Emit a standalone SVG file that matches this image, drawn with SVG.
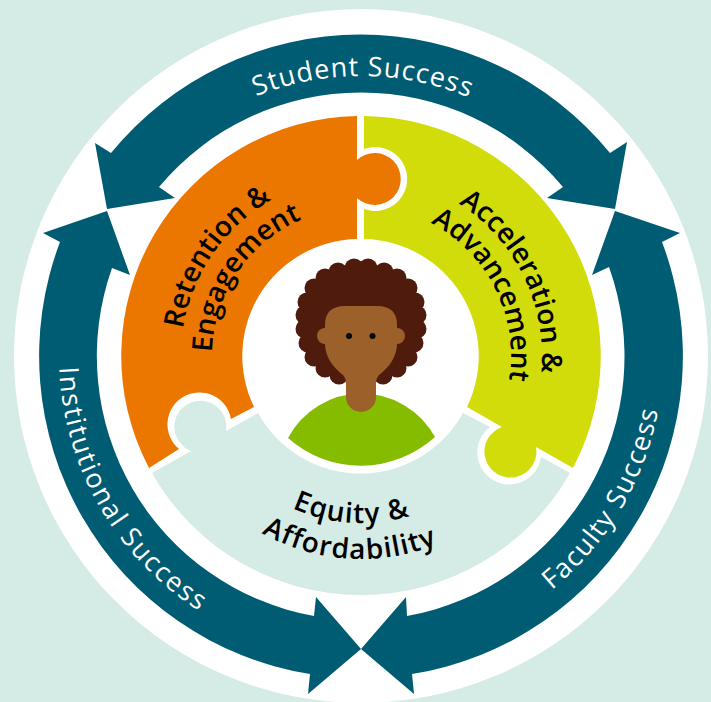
<svg xmlns="http://www.w3.org/2000/svg" width="711" height="702" viewBox="0 0 711 702">
<style>
.arrow{fill:#005c73}
.ring{font-family:"Open Sans","Noto Sans",sans-serif;font-size:27px;fill:#fff;text-anchor:middle;letter-spacing:1px}
.lbl{font-family:"Open Sans","Noto Sans",sans-serif;font-size:28px;font-weight:600;fill:#000;text-anchor:middle;letter-spacing:.1px}
</style>
<defs>
<path id="t280" d="M81 356A280 280 0 0 1 641 356"/>
<path id="b302" d="M59 356A302 302 0 0 0 663 356"/>
<path id="t180" d="M181 356A180 180 0 0 1 541 356"/>
<path id="t149" d="M212 356A149 149 0 0 1 510 356"/>
<path id="t181" d="M180 356A181 181 0 0 1 542 356"/>
<path id="t150" d="M211 356A150 150 0 0 1 511 356"/>
<path id="b167" d="M194 356A167 167 0 0 0 528 356"/>
<path id="b203" d="M158 356A203 203 0 0 0 564 356"/>
</defs>
<rect width="711" height="702" fill="#d5ebe5"/>
<circle cx="361" cy="356" r="347" fill="#fff"/>
<g id="connectors">
<g id="student-success">
<path class="arrow" d="M107 209L95 143L111 153A322 322 0 0 1 610 153L627 142L615 209L547 198L563 187A263 263 0 0 0 159 187L175 198Z"/>
<text class="ring" transform="rotate(.4 361 356)"><textPath href="#t280" startOffset="50%">Student Success</textPath></text>
</g>
<g id="institutional-success">
<path class="arrow" d="M107 211L43 233L60 242A322 322 0 0 0 310 674L308 694L361 649L316 597L314 616A264 264 0 0 1 112 268L130 275Z"/>
<text class="ring" style="letter-spacing:1.8px" transform="rotate(60 361 356)"><textPath href="#b302" startOffset="50%">Institutional Success</textPath></text>
</g>
<g id="faculty-success">
<path class="arrow" d="M615 211L680 233L662 242A322 322 0 0 1 412 674L414 694L361 649L406 597L407 616A264 264 0 0 0 609 267L592 275Z"/>
<text class="ring" style="letter-spacing:1.4px" transform="rotate(-59.5 361 356)"><textPath href="#b302" startOffset="50%">Faculty Success</textPath></text>
</g>
</g>
<g id="equity">
<path fill="#d5ebe5" d="M152 473A240 240 0 0 0 570 473L541 457A32 32 0 1 1 490 427L463 413A117 117 0 0 1 258 413L226 431A26 26 0 1 0 191 451Z"/>
<text class="lbl" style="letter-spacing:1.1px" transform="rotate(3.500 361 356)"><textPath href="#b167" startOffset="50%">Equity &amp;</textPath></text>
<text class="lbl" style="letter-spacing:1.1px" transform="rotate(3.500 361 356)"><textPath href="#b203" startOffset="50%">Affordability</textPath></text>
</g>
<g id="retention">
<path fill="#ec7700" d="M357 116A240 240 0 0 0 149 468L179 449A32 32 0 1 1 231 419L254 407A117 117 0 0 1 357 239V198A26 26 0 1 0 357 160Z"/>
<text class="lbl" transform="rotate(-55.5 361 356)"><textPath href="#t180" startOffset="50%">Retention &amp;</textPath></text>
<text class="lbl" transform="rotate(-56 361 356)"><textPath href="#t149" startOffset="50%">Engagement</textPath></text>
</g>
<g id="acceleration">
<path fill="#d2dc0b" d="M364 116A240 240 0 0 1 573 468L536 447A26 26 0 1 1 502 427L467 407A117 117 0 0 0 364 239V209A32 32 0 1 0 364 149Z"/>
<text class="lbl" transform="rotate(64 361 356)"><textPath href="#t181" startOffset="50%">Acceleration &amp;</textPath></text>
<text class="lbl" transform="rotate(63.5 361 356)"><textPath href="#t150" startOffset="50%">Advancement</textPath></text>
</g>
<g id="person">
<path fill="#86bc00" d="M288 438A83.5 83.5 0 0 1 435 437A110 110 0 0 1 288 438Z"/>
<g class="hair" fill="#4f1b0d">
<path d="M354 268L368 268L384 272L397 278L408 288L415 302L417 315L417 329L414 343L408 357L397 368L383 375L339 375L325 368L314 357L308 343L305 329L305 315L307 302L314 288L325 278L338 272Z"/>
<circle cx="354" cy="268" r="9.5"/><circle cx="368" cy="268" r="9.5"/><circle cx="384" cy="272" r="9.5"/><circle cx="397" cy="278" r="9.5"/><circle cx="408" cy="288" r="9.5"/><circle cx="415" cy="302" r="9.5"/><circle cx="417" cy="315" r="9.5"/><circle cx="417" cy="329" r="9.5"/><circle cx="414" cy="343" r="9.5"/><circle cx="408" cy="357" r="9.5"/><circle cx="397" cy="368" r="9.5"/><circle cx="383" cy="375" r="9.5"/><circle cx="339" cy="375" r="9.5"/><circle cx="325" cy="368" r="9.5"/><circle cx="314" cy="357" r="9.5"/><circle cx="308" cy="343" r="9.5"/><circle cx="305" cy="329" r="9.5"/><circle cx="305" cy="315" r="9.5"/><circle cx="307" cy="302" r="9.5"/><circle cx="314" cy="288" r="9.5"/><circle cx="325" cy="278" r="9.5"/><circle cx="338" cy="272" r="9.5"/>
</g>
<g fill="#9c602b">
<circle cx="325" cy="336" r="8"/><circle cx="397" cy="336" r="8"/>
<path d="M325 325Q325 306 345 306H377Q397 306 397 325V345Q396 362 379 375Q376 378 376 384V397A15 15 0 0 1 346 397V384Q346 378 343 375Q326 362 325 345Z"/>
</g>
<circle cx="349" cy="336" r="3" fill="#000"/><circle cx="372.500" cy="336" r="3" fill="#000"/>
</g>
</svg>
